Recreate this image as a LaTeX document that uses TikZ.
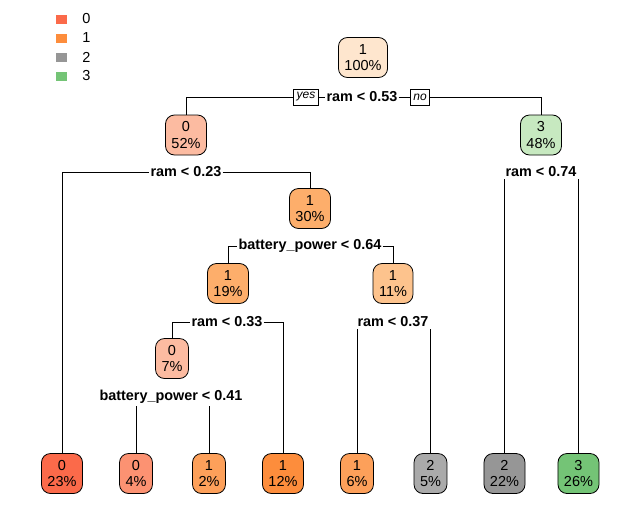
\documentclass[tikz,border=0pt]{standalone}
\usepackage{fontspec}
\setmainfont{Liberation Sans}
\usetikzlibrary{positioning,backgrounds}
\definecolor{red0}{HTML}{FB6A4A}
\definecolor{red1}{HTML}{FC9272}
\definecolor{red2}{HTML}{FCBBA1}
\definecolor{org0}{HTML}{FD8D3C}
\definecolor{org1}{HTML}{FDA05A}
\definecolor{org2}{HTML}{FDAE6B}
\definecolor{org3}{HTML}{FDC38D}
\definecolor{org4}{HTML}{FEE6CE}
\definecolor{gry0}{HTML}{969696}
\definecolor{gry1}{HTML}{AAAAAA}
\definecolor{grn0}{HTML}{74C476}
\definecolor{grn1}{HTML}{C7E9C0}
\tikzset{
  treenode/.style = {draw=black, line width=0.8pt, rounded corners=9pt, align=center,
    inner xsep=6pt, inner ysep=0pt, minimum height=40pt, font=\fontsize{14.5}{16.5}\selectfont},
  splitlabel/.style = {fill=white, inner xsep=1pt, inner ysep=2pt, font=\fontsize{14.4}{16}\selectfont\bfseries},
  yesno/.style = {draw=black, line width=0.6pt, fill=white, inner xsep=3pt, inner ysep=0pt,
    minimum height=16pt, font=\fontsize{12}{13}\selectfont\itshape},
  branch/.style = {line width=0.8pt},
  legendbox/.style = {minimum width=11pt, minimum height=9pt, inner sep=0pt}
}
\begin{document}
\begin{tikzpicture}[x=1pt,y=-1pt]
\useasboundingbox (0,0) rectangle (640,531);
% legend
\foreach \col/\lab [count=\i] in {red0/0,org0/1,gry0/2,grn0/3}{
  \node[legendbox, fill=\col] (key\lab) at (61.5,{19*\i}) {};
  \node[right=15pt of key\lab, inner sep=0pt, font=\fontsize{14.5}{16}\selectfont] {\lab};
}
% nodes
\node [treenode, fill=org4] (n1) at (363,57.5) {1\\100\%};
\node [treenode, fill=red2] (n2) at (186,135) {0\\52\%};
\node [treenode, fill=grn1] (n3) at (541,135) {3\\48\%};
\node [treenode, fill=red0] (n4) at (62,473.5) {0\\23\%};
\node [treenode, fill=org2] (n5) at (310,208.5) {1\\30\%};
\node [treenode, fill=org2] (n10) at (228,283.5) {1\\19\%};
\node [treenode, fill=org3] (n11) at (393,283.5) {1\\11\%};
\node [treenode, fill=red2] (n20) at (172,358.5) {0\\7\%};
\node [treenode, fill=red1] (n40) at (136,473.5) {0\\4\%};
\node [treenode, fill=org1] (n41) at (209,473.5) {1\\2\%};
\node [treenode, fill=org0] (n21) at (283,473.5) {1\\12\%};
\node [treenode, fill=org1] (n22) at (357,473.5) {1\\6\%};
\node [treenode, fill=gry1] (n23) at (430.5,473.5) {2\\5\%};
\node [treenode, fill=gry0] (n6) at (504.5,473.5) {2\\22\%};
\node [treenode, fill=grn0] (n7) at (578.5,473.5) {3\\26\%};
% split labels
\node [splitlabel] (s1) at (362,97) {ram < 0.53};
\node [splitlabel] (s2) at (186,172) {ram < 0.23};
\node [splitlabel] (s3) at (541,172) {ram < 0.74};
\node [splitlabel] (s5) at (310,246) {battery\_power < 0.64};
\node [splitlabel] (s10) at (227,322) {ram < 0.33};
\node [splitlabel] (s11) at (393,322) {ram < 0.37};
\node [splitlabel] (s20) at (171,397) {battery\_power < 0.41};
\node [yesno] (yes) at (306,97) {yes};
\node [yesno] (no) at (420,97) {no};
% branches
\begin{scope}[on background layer]
\draw [branch] (n2.north) |- (s1) -| (n3.north);
\draw [branch] (n4.north) |- (s2) -| (n5.north);
\draw [branch] (n10.north) |- (s5) -| (n11.north);
\draw [branch] (n20.north) |- (s10) -| (n21.north);
\draw [branch] (n22.north) -- (n22.north |- s11.north);
\draw [branch] (n23.north) -- (n23.north |- s11.south);
\draw [branch] (n40.north) -- (n40.north |- s20.south);
\draw [branch] (n41.north) -- (n41.north |- s20.south);
\draw [branch] (n6.north) -- (n6.north |- s3.south);
\draw [branch] (n7.north) -- (n7.north |- s3.south);
\end{scope}
\end{tikzpicture}
\end{document}
